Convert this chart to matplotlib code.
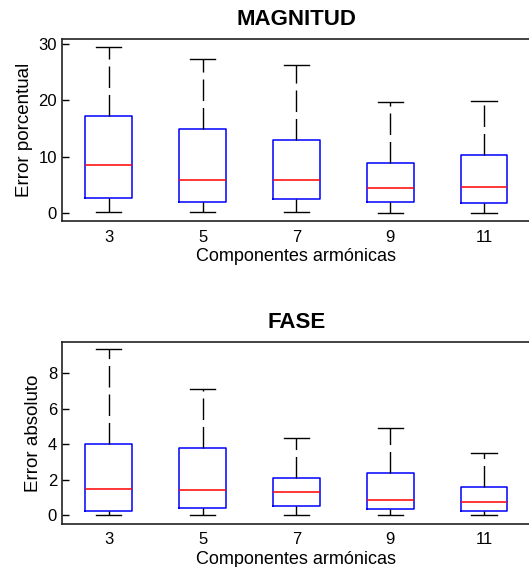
import matplotlib
matplotlib.use("Agg")
import matplotlib.pyplot as plt

plt.rcParams['font.family'] = ['Liberation Sans', 'DejaVu Sans']

componentes = ["3", "5", "7", "9", "11"]

# magnitud: error porcentual
mag_low = [0.23, 0.23, 0.23, 0.0, 0.0]
mag_q1 = [2.76, 2.0, 2.53, 2.0, 1.77]
mag_med = [8.6, 5.95, 5.95, 4.48, 4.72]
mag_q3 = [17.3, 15.0, 13.0, 8.96, 10.26]
mag_high = [29.4, 27.4, 26.3, 19.7, 19.9]

# fase: error absoluto
fase_low = [0.0, 0.0, 0.0, 0.0, 0.0]
fase_q1 = [0.26, 0.39, 0.52, 0.34, 0.26]
fase_med = [1.48, 1.40, 1.29, 0.88, 0.75]
fase_q3 = [3.99, 3.80, 2.10, 2.36, 1.61]
fase_high = [9.35, 7.12, 4.35, 4.89, 3.52]


def make_stats(low, q1, med, q3, high):
    stats = []
    for i in range(len(componentes)):
        stats.append({"whislo": low[i], "q1": q1[i], "med": med[i],
                      "q3": q3[i], "whishi": high[i], "fliers": []})
    return stats


def draw(ax, stats, title, ylabel, ylim, yticks):
    ax.bxp(stats, positions=range(1, len(stats) + 1), widths=0.5,
           capwidths=0.27, showfliers=False,
           boxprops=dict(color="blue", linewidth=1.1),
           medianprops=dict(color="red", linewidth=1.1),
           whiskerprops=dict(color="black", linewidth=1.0, linestyle=(0, (15.5, 5))),
           capprops=dict(color="black", linewidth=1.0))
    ax.set_xlim(0.5, 5.5)
    ax.set_ylim(*ylim)
    ax.set_yticks(yticks)
    ax.set_xticks(range(1, len(stats) + 1))
    ax.set_xticklabels(componentes)
    ax.tick_params(axis="y", direction="in", length=5, labelsize=12, width=1)
    ax.tick_params(axis="x", length=0, labelsize=12, pad=6)
    for s in ax.spines.values():
        s.set_linewidth(1.2)
        s.set_color("#222222")
    ax.set_title(title, fontsize=16, fontweight="bold", pad=10)
    ax.set_ylabel(ylabel, fontsize=13.5)
    ax.set_xlabel("Componentes armónicas", fontsize=13, labelpad=2.5)


fig = plt.figure(figsize=(5.29, 5.67), dpi=100)
ax1 = fig.add_axes([0.117, 0.6097, 0.8866, 0.321])
ax2 = fig.add_axes([0.117, 0.0758, 0.8866, 0.3215])

draw(ax1, make_stats(mag_low, mag_q1, mag_med, mag_q3, mag_high),
     "MAGNITUD", "Error porcentual", (-1.4, 30.8), [0, 10, 20, 30])
draw(ax2, make_stats(fase_low, fase_q1, fase_med, fase_q3, fase_high),
     "FASE", "Error absoluto", (-0.49, 9.76), [0, 2, 4, 6, 8])

fig.savefig("out.png", dpi=100)
